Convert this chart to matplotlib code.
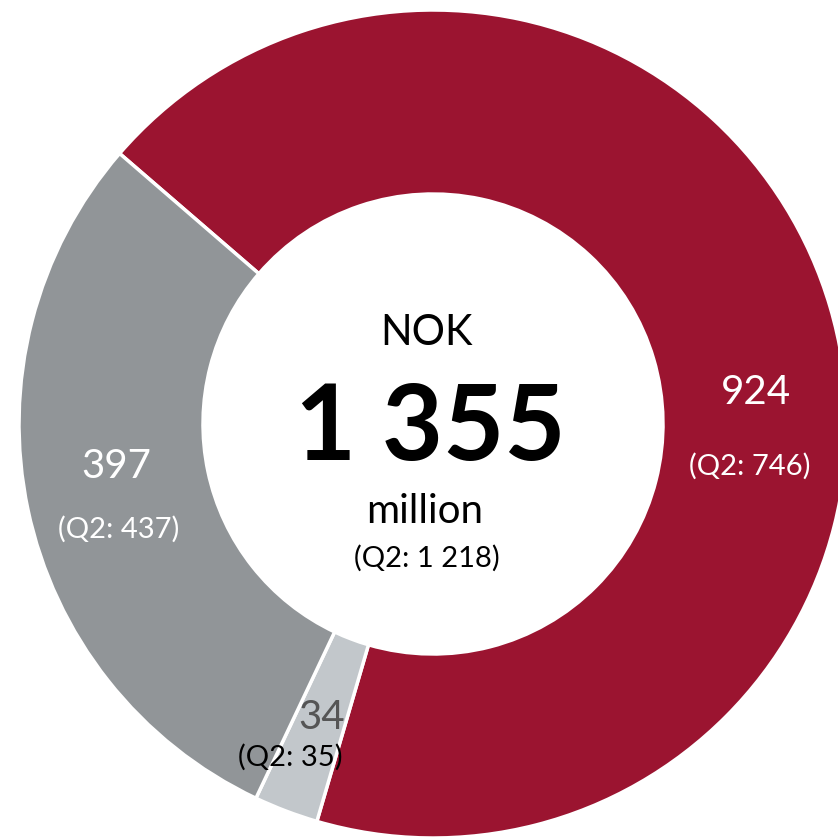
import matplotlib.pyplot as plt

plt.rcParams['font.family'] = ['Lato', 'DejaVu Sans']

# Revenue split, NOK million (current quarter and Q2)
values = [924, 34, 397]
q2_values = [746, 35, 437]
total = 1355
q2_total = 1218

colors = ['#9B1430', '#C2C7CB', '#919598']
value_colors = ['white', '#555555', 'white']
q2_colors = ['white', 'black', 'white']

W = H = 838
cx, cy = 433, 424          # ring centre, pixels from top-left
r_out, r_in = 414, 230

# label layout: (x, baseline) for value line and Q2 line, plus alignment
label_pos = [((756, 404), (750, 475), 'center'),
             ((345, 729), (343, 766), 'right'),
             ((116, 478), (119, 538), 'center')]

fig = plt.figure(figsize=(W / 100, H / 100), dpi=100)
ax = fig.add_axes([0, 0, 1, 1])

ax.pie(values, colors=colors, startangle=139.2, counterclock=False,
       center=(cx, H - cy), radius=r_out,
       wedgeprops=dict(width=r_out - r_in, edgecolor='white', linewidth=2.5))
ax.set_xlim(0, W)
ax.set_ylim(0, H)
ax.set_aspect('equal')
ax.axis('off')


def fmt(v):
    return f'{v:,}'.replace(',', ' ')


for v, q, vc, qc, (pv, pq, ha) in zip(values, q2_values, value_colors, q2_colors, label_pos):
    ax.text(pv[0], H - pv[1], fmt(v), ha=ha, va='baseline', fontsize=29, color=vc)
    ax.text(pq[0], H - pq[1], f'(Q2: {fmt(q)})', ha=ha, va='baseline', fontsize=21,
            color=qc)

# centre text
ax.text(426, H - 345, 'NOK', ha='center', va='baseline', fontsize=30, color='black')
ax.text(430, H - 460, fmt(total), ha='center', va='baseline', fontsize=76,
        fontweight='bold', color='black')
ax.text(425, H - 523, 'million', ha='center', va='baseline', fontsize=29, color='black')
ax.text(427, H - 567, f'(Q2: {fmt(q2_total)})', ha='center', va='baseline',
        fontsize=21, color='black')

fig.savefig('out.png', dpi=100)
